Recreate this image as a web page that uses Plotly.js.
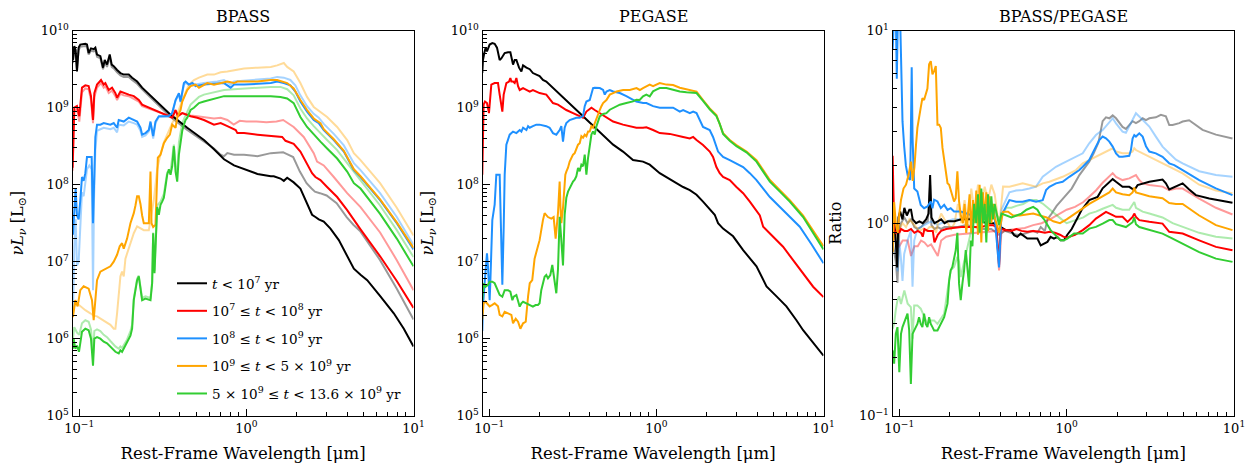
<!DOCTYPE html>
<html>
<head>
<meta charset="utf-8">
<script src="https://cdn.plot.ly/plotly-3.0.1.min.js"></script>
<style>
  html, body { margin: 0; padding: 0; background: #fff; }
  #chart { width: 1256px; height: 475px; }
</style>
</head>
<body>
<div id="chart"></div>
<script>
// Spectral energy distributions split by stellar age, BPASS vs PEGASE.
// Every series is a list of [log10(wavelength / micron), log10(value)] pairs.

const AGE_LABELS = [
  "<i>t</i> < 10<sup>7</sup> yr",
  "10<sup>7</sup> ≤ <i>t</i> < 10<sup>8</sup> yr",
  "10<sup>8</sup> ≤ <i>t</i> < 10<sup>9</sup> yr",
  "10<sup>9</sup> ≤ <i>t</i> < 5 × 10<sup>9</sup> yr",
  "5 × 10<sup>9</sup> ≤ <i>t</i> < 13.6 × 10<sup>9</sup> yr"
];

// ---------- BPASS, log10 nuLnu [Lsun] ----------
const bpass_lt7 = [[-1.038,9.62],[-1.03,9.80],[-1.022,9.75],[-1.014,9.47],[-1.004,9.78],[-0.994,9.82],[-0.964,9.83],[-0.954,9.82],[-0.944,9.71],[-0.93,9.77],[-0.914,9.76],[-0.904,9.78],[-0.894,9.69],[-0.874,9.67],[-0.858,9.52],[-0.848,9.62],[-0.834,9.56],[-0.818,9.69],[-0.806,9.56],[-0.794,9.54],[-0.774,9.49],[-0.754,9.45],[-0.734,9.43],[-0.704,9.43],[-0.684,9.39],[-0.654,9.34],[-0.624,9.26],[-0.454,8.91],[-0.354,8.74],[-0.254,8.58],[-0.194,8.46],[-0.134,8.33],[-0.074,8.25],[-0.014,8.20],[0.066,8.14],[0.146,8.11],[0.164,8.11],[0.204,8.08],[0.224,8.05],[0.244,8.09],[0.283,8.03],[0.323,7.95],[0.353,7.80],[0.373,7.69],[0.393,7.61],[0.413,7.58],[0.433,7.55],[0.463,7.52],[0.503,7.43],[0.553,7.28],[0.603,7.07],[0.643,6.91],[0.683,6.83],[0.723,6.76],[0.802,6.55],[0.882,6.33],[0.942,6.13],[1.0,5.90]];
const bpass_7to8 = [[-1.04,8.22],[-1.03,9.00],[-1.014,9.02],[-1.0,8.89],[-0.984,9.26],[-0.964,9.29],[-0.944,9.28],[-0.93,9.15],[-0.918,8.84],[-0.91,9.19],[-0.894,9.30],[-0.878,9.34],[-0.87,9.36],[-0.854,9.30],[-0.844,9.32],[-0.824,9.23],[-0.804,9.26],[-0.784,9.19],[-0.774,9.13],[-0.754,9.21],[-0.734,9.19],[-0.704,9.17],[-0.674,9.15],[-0.644,9.10],[-0.624,9.04],[-0.584,9.00],[-0.534,8.95],[-0.474,8.90],[-0.444,8.87],[-0.424,8.97],[-0.41,8.89],[-0.384,8.93],[-0.334,8.89],[-0.294,8.87],[-0.254,8.84],[-0.194,8.78],[-0.154,8.80],[-0.114,8.76],[-0.064,8.71],[-0.054,8.67],[-0.014,8.67],[0.066,8.65],[0.146,8.63],[0.214,8.62],[0.234,8.57],[0.283,8.53],[0.323,8.43],[0.363,8.28],[0.393,8.15],[0.413,8.10],[0.443,8.06],[0.483,7.97],[0.543,7.84],[0.603,7.67],[0.643,7.54],[0.683,7.42],[0.8,7.07],[0.9,6.75],[1.0,6.40]];
const bpass_8to9 = [[-1.038,7.35],[-1.03,7.75],[-1.022,7.95],[-1.014,7.60],[-1.004,7.55],[-0.994,7.80],[-0.984,8.10],[-0.974,8.05],[-0.964,8.15],[-0.954,8.36],[-0.94,8.36],[-0.926,8.36],[-0.918,7.50],[-0.912,8.20],[-0.904,8.62],[-0.894,8.78],[-0.874,8.78],[-0.854,8.80],[-0.814,8.78],[-0.794,8.80],[-0.774,8.74],[-0.764,8.84],[-0.734,8.82],[-0.704,8.87],[-0.674,8.84],[-0.654,8.82],[-0.634,8.74],[-0.624,8.65],[-0.604,8.67],[-0.584,8.71],[-0.574,8.82],[-0.558,8.63],[-0.544,8.82],[-0.524,8.89],[-0.464,8.89],[-0.444,8.93],[-0.424,9.10],[-0.404,9.19],[-0.394,9.08],[-0.374,9.32],[-0.364,9.34],[-0.344,9.30],[-0.324,9.32],[-0.304,9.28],[-0.254,9.30],[-0.174,9.31],[-0.134,9.32],[-0.094,9.26],[-0.074,9.30],[-0.014,9.30],[0.146,9.32],[0.184,9.34],[0.224,9.32],[0.263,9.29],[0.293,9.21],[0.323,9.08],[0.363,8.95],[0.403,8.84],[0.433,8.80],[0.463,8.71],[0.523,8.58],[0.583,8.43],[0.643,8.19],[0.683,8.10],[0.8,7.80],[0.9,7.50],[1.0,7.16]];
const bpass_9to5e9 = [[-1.038,6.28],[-1.034,6.37],[-1.024,6.50],[-1.01,6.42],[-0.994,6.63],[-0.974,6.68],[-0.944,6.65],[-0.924,6.50],[-0.914,6.24],[-0.904,6.50],[-0.894,6.76],[-0.874,6.87],[-0.854,6.89],[-0.834,6.91],[-0.814,6.94],[-0.794,7.00],[-0.774,7.09],[-0.758,7.20],[-0.744,7.24],[-0.734,7.17],[-0.714,7.30],[-0.694,7.50],[-0.674,7.63],[-0.664,7.73],[-0.654,7.85],[-0.644,7.85],[-0.634,7.75],[-0.624,7.60],[-0.614,7.50],[-0.584,7.50],[-0.574,8.17],[-0.568,7.50],[-0.558,7.45],[-0.544,7.48],[-0.538,7.85],[-0.53,8.35],[-0.514,8.39],[-0.494,8.54],[-0.474,8.61],[-0.458,8.65],[-0.444,8.78],[-0.424,8.74],[-0.414,8.87],[-0.394,8.97],[-0.384,9.08],[-0.374,9.13],[-0.354,9.23],[-0.334,9.28],[-0.304,9.30],[-0.284,9.26],[-0.264,9.28],[-0.234,9.32],[-0.194,9.30],[-0.154,9.32],[-0.114,9.34],[-0.074,9.32],[-0.054,9.34],[0.006,9.34],[0.066,9.34],[0.146,9.36],[0.184,9.36],[0.244,9.32],[0.283,9.25],[0.323,9.10],[0.363,8.97],[0.403,8.86],[0.443,8.80],[0.463,8.72],[0.523,8.59],[0.583,8.44],[0.643,8.20],[0.683,8.11],[0.8,7.81],[0.9,7.51],[1.0,7.18]];
const bpass_5e9to13e9 = [[-1.038,5.87],[-1.034,6.00],[-1.024,5.87],[-1.014,5.91],[-1.002,5.83],[-0.984,6.09],[-0.964,6.13],[-0.944,6.11],[-0.93,6.00],[-0.918,5.65],[-0.91,6.00],[-0.894,6.02],[-0.874,6.00],[-0.854,5.96],[-0.834,5.94],[-0.814,5.89],[-0.784,5.83],[-0.764,5.81],[-0.754,5.85],[-0.744,5.83],[-0.734,5.87],[-0.714,5.94],[-0.694,6.04],[-0.684,6.13],[-0.674,6.50],[-0.664,6.63],[-0.654,6.76],[-0.644,6.81],[-0.634,6.63],[-0.624,6.50],[-0.604,6.52],[-0.574,6.50],[-0.564,6.72],[-0.558,7.37],[-0.55,6.85],[-0.544,7.28],[-0.534,7.71],[-0.524,7.61],[-0.514,7.74],[-0.504,7.78],[-0.494,7.83],[-0.484,7.98],[-0.474,8.13],[-0.464,8.20],[-0.454,8.13],[-0.444,8.24],[-0.434,8.50],[-0.424,8.17],[-0.414,8.04],[-0.404,8.39],[-0.394,8.56],[-0.384,8.70],[-0.374,8.78],[-0.364,8.84],[-0.354,8.87],[-0.334,8.97],[-0.314,9.00],[-0.284,9.06],[-0.254,9.08],[-0.214,9.10],[-0.174,9.13],[-0.134,9.15],[-0.074,9.15],[-0.014,9.15],[0.066,9.15],[0.146,9.15],[0.204,9.14],[0.244,9.12],[0.283,9.06],[0.323,8.88],[0.363,8.75],[0.403,8.65],[0.443,8.56],[0.483,8.47],[0.543,8.34],[0.603,8.17],[0.643,8.02],[0.683,7.95],[0.8,7.62],[0.9,7.30],[1.0,6.94]];

// BPASS alternative model (drawn faded)
const bpassAlt_lt7 = [[-1.038,9.58],[-1.03,9.77],[-1.022,9.70],[-1.014,9.50],[-1.004,9.75],[-0.994,9.79],[-0.964,9.80],[-0.954,9.79],[-0.944,9.69],[-0.93,9.74],[-0.914,9.73],[-0.904,9.75],[-0.894,9.66],[-0.874,9.64],[-0.858,9.50],[-0.848,9.59],[-0.834,9.53],[-0.818,9.66],[-0.806,9.53],[-0.794,9.51],[-0.774,9.46],[-0.754,9.42],[-0.734,9.40],[-0.704,9.40],[-0.684,9.36],[-0.654,9.31],[-0.624,9.24],[-0.454,8.88],[-0.354,8.71],[-0.254,8.56],[-0.194,8.47],[-0.154,8.39],[-0.134,8.37],[-0.114,8.41],[-0.074,8.39],[-0.014,8.39],[0.066,8.37],[0.146,8.41],[0.22,8.42],[0.24,8.40],[0.28,8.36],[0.32,8.17],[0.36,8.02],[0.39,7.95],[0.41,7.91],[0.44,7.89],[0.48,7.86],[0.54,7.76],[0.6,7.58],[0.64,7.48],[0.68,7.40],[0.8,7.02],[0.9,6.65],[1.0,6.25]];
const bpassAlt_7to8 = [[-1.04,8.18],[-1.03,8.95],[-1.014,8.98],[-1.0,8.82],[-0.984,9.20],[-0.964,9.25],[-0.944,9.24],[-0.93,9.10],[-0.918,8.80],[-0.91,9.14],[-0.894,9.26],[-0.878,9.30],[-0.87,9.32],[-0.854,9.26],[-0.844,9.28],[-0.824,9.19],[-0.804,9.22],[-0.784,9.15],[-0.774,9.10],[-0.754,9.18],[-0.734,9.16],[-0.704,9.15],[-0.674,9.12],[-0.644,9.08],[-0.624,9.02],[-0.584,8.99],[-0.534,8.95],[-0.474,8.91],[-0.444,8.88],[-0.424,8.96],[-0.41,8.90],[-0.384,8.93],[-0.334,8.90],[-0.294,8.89],[-0.254,8.88],[-0.194,8.86],[-0.154,8.87],[-0.114,8.84],[-0.076,8.78],[-0.04,8.83],[0.0,8.82],[0.06,8.82],[0.12,8.81],[0.18,8.82],[0.22,8.84],[0.283,8.75],[0.343,8.62],[0.403,8.41],[0.423,8.30],[0.463,8.25],[0.523,8.10],[0.603,7.89],[0.683,7.71],[0.8,7.38],[0.9,7.02],[1.0,6.63]];
const bpassAlt_8to9 = [[-1.038,6.30],[-1.03,7.20],[-1.022,7.55],[-1.014,6.95],[-1.004,7.00],[-0.994,7.55],[-0.984,7.90],[-0.974,7.85],[-0.964,8.05],[-0.954,8.20],[-0.94,8.25],[-0.926,8.20],[-0.918,6.63],[-0.912,7.80],[-0.904,8.45],[-0.894,8.70],[-0.874,8.72],[-0.854,8.74],[-0.814,8.72],[-0.794,8.74],[-0.774,8.68],[-0.764,8.78],[-0.734,8.77],[-0.704,8.82],[-0.674,8.80],[-0.654,8.78],[-0.634,8.70],[-0.624,8.62],[-0.604,8.64],[-0.584,8.69],[-0.574,8.80],[-0.558,8.60],[-0.544,8.80],[-0.524,8.88],[-0.464,8.89],[-0.444,8.93],[-0.424,9.09],[-0.404,9.17],[-0.394,9.07],[-0.374,9.30],[-0.364,9.32],[-0.344,9.30],[-0.324,9.32],[-0.304,9.30],[-0.254,9.32],[-0.174,9.34],[-0.134,9.36],[-0.094,9.30],[-0.074,9.34],[-0.014,9.35],[0.146,9.38],[0.184,9.40],[0.224,9.39],[0.263,9.36],[0.293,9.29],[0.323,9.16],[0.363,9.02],[0.403,8.92],[0.433,8.87],[0.463,8.79],[0.523,8.66],[0.583,8.51],[0.643,8.28],[0.683,8.19],[0.8,7.89],[0.9,7.58],[1.0,7.22]];
const bpassAlt_9to5e9 = [[-1.038,6.35],[-1.03,6.42],[-1.014,6.46],[-0.994,6.42],[-0.964,6.37],[-0.934,6.33],[-0.914,6.30],[-0.894,6.29],[-0.854,6.24],[-0.814,6.18],[-0.794,6.13],[-0.784,6.13],[-0.774,6.33],[-0.764,6.55],[-0.754,6.81],[-0.744,6.87],[-0.734,6.81],[-0.724,7.04],[-0.694,7.24],[-0.674,7.37],[-0.654,7.46],[-0.634,7.44],[-0.614,7.41],[-0.584,7.41],[-0.574,7.54],[-0.554,7.80],[-0.534,8.20],[-0.514,8.40],[-0.494,8.55],[-0.474,8.66],[-0.444,8.80],[-0.414,8.92],[-0.384,9.10],[-0.364,9.20],[-0.344,9.30],[-0.314,9.36],[-0.284,9.39],[-0.234,9.43],[-0.194,9.43],[-0.154,9.46],[-0.114,9.47],[-0.074,9.49],[-0.014,9.51],[0.066,9.52],[0.146,9.53],[0.184,9.55],[0.224,9.58],[0.244,9.53],[0.283,9.47],[0.323,9.32],[0.363,9.14],[0.403,9.01],[0.443,8.95],[0.483,8.88],[0.543,8.75],[0.603,8.58],[0.643,8.41],[0.683,8.32],[0.8,8.02],[0.9,7.70],[1.0,7.34]];
const bpassAlt_5e9to13e9 = [[-1.038,6.00],[-1.03,6.15],[-1.014,6.08],[-1.0,6.05],[-0.984,6.20],[-0.964,6.24],[-0.944,6.22],[-0.93,6.12],[-0.918,5.80],[-0.91,6.10],[-0.894,6.12],[-0.874,6.10],[-0.854,6.05],[-0.834,6.02],[-0.814,5.97],[-0.784,5.90],[-0.764,5.87],[-0.754,5.90],[-0.744,5.88],[-0.734,5.92],[-0.714,5.99],[-0.694,6.10],[-0.684,6.18],[-0.674,6.52],[-0.664,6.65],[-0.654,6.78],[-0.644,6.82],[-0.634,6.66],[-0.624,6.53],[-0.604,6.55],[-0.574,6.53],[-0.564,6.74],[-0.558,7.38],[-0.55,6.88],[-0.544,7.30],[-0.534,7.73],[-0.514,7.78],[-0.494,7.88],[-0.474,8.16],[-0.454,8.18],[-0.434,8.52],[-0.424,8.25],[-0.414,8.15],[-0.404,8.55],[-0.394,8.68],[-0.384,8.80],[-0.374,8.85],[-0.364,8.90],[-0.354,8.94],[-0.334,9.04],[-0.314,9.08],[-0.284,9.14],[-0.254,9.17],[-0.214,9.19],[-0.174,9.21],[-0.134,9.23],[-0.074,9.24],[-0.014,9.25],[0.066,9.26],[0.146,9.27],[0.204,9.27],[0.244,9.24],[0.283,9.16],[0.323,8.99],[0.363,8.86],[0.403,8.76],[0.483,8.58],[0.543,8.45],[0.603,8.28],[0.683,8.06],[0.8,7.73],[0.9,7.41],[1.0,7.06]];

// ---------- PEGASE, log10 nuLnu [Lsun] ----------
const pegase_lt7 = [[-1.042,9.45],[-1.038,9.62],[-1.03,9.71],[-1.022,9.78],[-1.014,9.73],[-0.998,9.82],[-0.982,9.84],[-0.968,9.83],[-0.954,9.78],[-0.938,9.62],[-0.928,9.64],[-0.908,9.71],[-0.888,9.72],[-0.874,9.72],[-0.858,9.56],[-0.848,9.62],[-0.838,9.62],[-0.822,9.52],[-0.808,9.47],[-0.798,9.55],[-0.778,9.52],[-0.758,9.50],[-0.739,9.45],[-0.719,9.43],[-0.699,9.41],[-0.679,9.36],[-0.659,9.34],[-0.439,8.89],[-0.259,8.52],[-0.2,8.43],[-0.14,8.32],[-0.08,8.30],[-0.04,8.26],[0.02,8.15],[0.08,8.07],[0.12,8.02],[0.16,7.97],[0.2,7.93],[0.24,7.87],[0.279,7.78],[0.319,7.69],[0.349,7.61],[0.369,7.50],[0.399,7.43],[0.459,7.33],[0.519,7.15],[0.599,6.94],[0.629,6.81],[0.659,6.68],[0.719,6.55],[0.778,6.42],[0.838,6.24],[0.878,6.11],[1.0,5.78]];
const pegase_7to8 = [[-1.042,8.13],[-1.038,8.74],[-1.034,9.04],[-1.026,9.08],[-1.014,9.06],[-1.002,8.93],[-0.988,9.30],[-0.968,9.32],[-0.948,9.32],[-0.938,9.17],[-0.922,8.95],[-0.914,9.17],[-0.898,9.32],[-0.882,9.34],[-0.874,9.385],[-0.868,9.34],[-0.858,9.34],[-0.848,9.32],[-0.838,9.385],[-0.828,9.28],[-0.818,9.23],[-0.798,9.255],[-0.778,9.23],[-0.758,9.21],[-0.739,9.23],[-0.719,9.21],[-0.699,9.19],[-0.659,9.17],[-0.619,9.06],[-0.589,9.04],[-0.559,9.00],[-0.539,8.97],[-0.499,8.93],[-0.459,8.89],[-0.439,8.87],[-0.419,8.95],[-0.389,9.00],[-0.369,8.97],[-0.339,8.93],[-0.299,8.87],[-0.259,8.82],[-0.2,8.78],[-0.16,8.76],[-0.12,8.74],[-0.08,8.74],[-0.06,8.745],[-0.02,8.71],[0.02,8.67],[0.08,8.66],[0.12,8.645],[0.16,8.62],[0.2,8.60],[0.22,8.62],[0.24,8.58],[0.279,8.515],[0.319,8.43],[0.339,8.36],[0.359,8.23],[0.379,8.15],[0.399,8.10],[0.439,8.06],[0.479,7.97],[0.519,7.89],[0.559,7.78],[0.599,7.65],[0.619,7.60],[0.639,7.455],[0.659,7.41],[0.699,7.325],[0.758,7.195],[0.818,7.02],[0.878,6.85],[0.938,6.675],[1.0,6.54]];
const pegase_8to9 = [[-1.042,6.10],[-1.038,6.42],[-1.028,6.72],[-1.018,6.98],[-1.014,7.11],[-1.008,6.94],[-0.998,6.50],[-0.994,6.72],[-0.982,7.54],[-0.968,7.74],[-0.958,8.13],[-0.938,8.13],[-0.932,7.44],[-0.922,6.70],[-0.914,7.44],[-0.908,8.13],[-0.898,8.52],[-0.878,8.65],[-0.858,8.69],[-0.838,8.67],[-0.818,8.71],[-0.808,8.69],[-0.798,8.74],[-0.778,8.71],[-0.768,8.76],[-0.758,8.74],[-0.739,8.76],[-0.719,8.78],[-0.699,8.78],[-0.659,8.76],[-0.639,8.74],[-0.619,8.67],[-0.599,8.65],[-0.579,8.71],[-0.569,8.76],[-0.559,8.56],[-0.549,8.74],[-0.539,8.80],[-0.519,8.84],[-0.479,8.87],[-0.459,8.87],[-0.439,8.89],[-0.429,9.02],[-0.419,9.08],[-0.399,9.10],[-0.389,9.17],[-0.379,9.255],[-0.369,9.26],[-0.339,9.255],[-0.319,9.23],[-0.309,9.17],[-0.299,9.21],[-0.279,9.23],[-0.259,9.21],[-0.219,9.19],[-0.18,9.15],[-0.14,9.10],[-0.12,9.08],[-0.08,9.06],[-0.06,9.06],[-0.02,9.02],[0.02,9.00],[0.06,9.00],[0.1,9.00],[0.14,8.95],[0.16,8.97],[0.2,8.93],[0.22,8.95],[0.24,8.93],[0.259,8.84],[0.279,8.75],[0.319,8.71],[0.339,8.62],[0.369,8.43],[0.399,8.36],[0.439,8.32],[0.479,8.28],[0.519,8.23],[0.559,8.15],[0.599,8.06],[0.639,7.95],[0.679,7.84],[0.739,7.71],[0.798,7.58],[0.858,7.455],[0.93,7.22],[1.0,6.98]];
const pegase_9to5e9 = [[-1.042,6.25],[-1.034,6.46],[-1.022,6.48],[-1.008,6.44],[-0.998,6.42],[-0.982,6.44],[-0.968,6.46],[-0.948,6.42],[-0.938,6.31],[-0.922,6.29],[-0.908,6.35],[-0.888,6.33],[-0.868,6.31],[-0.858,6.20],[-0.842,6.26],[-0.828,6.22],[-0.814,6.13],[-0.798,6.20],[-0.782,6.22],[-0.768,6.55],[-0.758,6.72],[-0.743,6.76],[-0.729,7.04],[-0.709,7.20],[-0.699,7.28],[-0.679,7.54],[-0.669,7.63],[-0.649,7.58],[-0.629,7.56],[-0.615,7.58],[-0.603,7.30],[-0.589,7.63],[-0.579,8.04],[-0.574,7.70],[-0.569,7.50],[-0.559,7.70],[-0.545,8.13],[-0.539,8.17],[-0.529,8.22],[-0.519,8.30],[-0.499,8.39],[-0.489,8.41],[-0.479,8.48],[-0.469,8.52],[-0.459,8.54],[-0.449,8.63],[-0.439,8.61],[-0.429,8.65],[-0.419,8.63],[-0.409,8.69],[-0.399,8.69],[-0.389,8.76],[-0.379,8.74],[-0.369,8.80],[-0.359,8.87],[-0.349,8.93],[-0.339,8.97],[-0.329,9.02],[-0.319,9.06],[-0.299,9.10],[-0.279,9.17],[-0.259,9.19],[-0.239,9.21],[-0.199,9.23],[-0.159,9.23],[-0.119,9.255],[-0.099,9.23],[-0.08,9.255],[-0.06,9.28],[-0.04,9.30],[-0.02,9.28],[0.0,9.30],[0.02,9.32],[0.06,9.30],[0.1,9.294],[0.14,9.26],[0.18,9.24],[0.24,9.21],[0.279,9.10],[0.319,8.99],[0.359,8.905],[0.379,8.80],[0.399,8.67],[0.439,8.58],[0.479,8.515],[0.539,8.43],[0.599,8.32],[0.639,8.19],[0.679,8.06],[0.739,7.93],[0.798,7.80],[0.878,7.60],[1.0,7.20]];
const pegase_5e9to13e9 = [[-1.042,6.50],[-1.034,6.72],[-1.022,6.675],[-1.008,6.70],[-0.998,6.74],[-0.982,6.74],[-0.968,6.72],[-0.954,6.65],[-0.938,6.57],[-0.922,6.545],[-0.908,6.63],[-0.888,6.63],[-0.874,6.61],[-0.862,6.50],[-0.854,6.545],[-0.838,6.567],[-0.828,6.50],[-0.818,6.416],[-0.808,6.46],[-0.798,6.48],[-0.778,6.46],[-0.758,6.437],[-0.739,6.416],[-0.723,6.437],[-0.709,6.437],[-0.699,6.46],[-0.689,6.63],[-0.669,6.805],[-0.659,6.827],[-0.649,6.784],[-0.635,6.827],[-0.623,6.957],[-0.609,6.72],[-0.599,6.59],[-0.589,6.90],[-0.579,7.584],[-0.569,7.281],[-0.559,6.95],[-0.549,7.61],[-0.539,7.83],[-0.529,7.91],[-0.519,7.96],[-0.509,8.0],[-0.499,8.04],[-0.489,8.065],[-0.479,8.11],[-0.469,8.216],[-0.459,8.173],[-0.449,8.26],[-0.439,8.24],[-0.429,8.39],[-0.419,8.13],[-0.409,8.35],[-0.399,8.54],[-0.389,8.65],[-0.379,8.693],[-0.369,8.65],[-0.359,8.758],[-0.349,8.822],[-0.339,8.887],[-0.319,8.918],[-0.299,8.93],[-0.279,8.974],[-0.259,8.996],[-0.219,9.039],[-0.18,9.06],[-0.14,9.082],[-0.12,9.104],[-0.1,9.10],[-0.08,9.147],[-0.06,9.169],[-0.04,9.147],[-0.02,9.212],[0.0,9.234],[0.02,9.255],[0.06,9.255],[0.1,9.234],[0.14,9.21],[0.18,9.20],[0.22,9.19],[0.24,9.19],[0.279,9.09],[0.319,8.98],[0.359,8.89],[0.379,8.79],[0.399,8.66],[0.439,8.57],[0.479,8.50],[0.539,8.42],[0.599,8.30],[0.639,8.17],[0.679,8.04],[0.739,7.91],[0.798,7.78],[0.878,7.58],[1.0,7.16]];

// ---------- BPASS / PEGASE, log10 ratio ----------
const ratio_lt7 = [[-1.04,-0.05],[-1.031,0.02],[-1.021,-0.10],[-1.013,-0.23],[-1.005,0.03],[-0.995,0.06],[-0.981,0.02],[-0.97,0.08],[-0.955,0.04],[-0.94,0.07],[-0.93,0.07],[-0.92,0.02],[-0.9,0.0],[-0.88,0.01],[-0.86,0.0],[-0.84,0.02],[-0.825,0.05],[-0.816,0.25],[-0.808,0.03],[-0.79,0.0],[-0.77,0.01],[-0.75,0.02],[-0.73,0.0],[-0.71,0.01],[-0.67,0.01],[-0.63,0.02],[-0.57,0.02],[-0.51,0.01],[-0.47,0.0],[-0.434,0.0],[-0.404,-0.04],[-0.394,-0.02],[-0.364,-0.036],[-0.334,-0.036],[-0.314,-0.062],[-0.295,-0.071],[-0.275,-0.054],[-0.235,-0.08],[-0.215,-0.08],[-0.175,-0.08],[-0.155,-0.115],[-0.135,-0.106],[-0.115,-0.097],[-0.096,-0.071],[-0.076,-0.08],[-0.056,-0.071],[-0.036,-0.089],[-0.016,-0.089],[0.004,-0.06],[0.03,-0.03],[0.06,0.02],[0.09,0.07],[0.135,0.12],[0.185,0.137],[0.215,0.181],[0.275,0.229],[0.295,0.215],[0.334,0.189],[0.374,0.189],[0.404,0.172],[0.424,0.198],[0.454,0.207],[0.494,0.215],[0.573,0.227],[0.593,0.207],[0.613,0.175],[0.673,0.198],[0.693,0.207],[0.732,0.175],[0.772,0.146],[0.852,0.128],[0.991,0.106]];
const ratio_7to8 = [[-1.04,0.35],[-1.035,0.0],[-1.03,-0.04],[-1.02,-0.05],[-1.01,-0.03],[-1.0,-0.05],[-0.99,-0.03],[-0.97,-0.04],[-0.95,-0.04],[-0.93,-0.03],[-0.91,-0.05],[-0.89,-0.04],[-0.87,-0.05],[-0.86,-0.07],[-0.85,-0.03],[-0.83,-0.04],[-0.8,-0.04],[-0.79,-0.1],[-0.77,-0.06],[-0.75,-0.04],[-0.72,-0.03],[-0.68,-0.025],[-0.63,-0.02],[-0.57,-0.02],[-0.51,-0.02],[-0.47,-0.01],[-0.44,-0.01],[-0.42,-0.02],[-0.404,-0.22],[-0.395,-0.03],[-0.36,-0.035],[-0.33,-0.04],[-0.3,-0.03],[-0.27,-0.04],[-0.235,-0.045],[-0.2,-0.04],[-0.16,-0.045],[-0.13,-0.05],[-0.1,-0.045],[-0.07,-0.05],[-0.04,-0.06],[-0.02,-0.07],[0.0,-0.075],[0.05,-0.06],[0.096,-0.036],[0.135,-0.01],[0.175,0.024],[0.215,0.05],[0.235,0.059],[0.275,0.042],[0.295,0.033],[0.334,0.033],[0.364,0.007],[0.394,0.033],[0.404,0.05],[0.414,0.033],[0.434,0.016],[0.494,0.007],[0.573,-0.002],[0.613,-0.045],[0.693,-0.054],[0.792,-0.089],[0.892,-0.123],[0.991,-0.141]];
const ratio_8to9 = [[-1.04,0.9],[-1.03,1.1],[-1.021,1.1],[-1.015,0.75],[-1.008,1.1],[-0.996,1.1],[-0.988,0.8],[-0.981,0.53],[-0.971,0.40],[-0.961,0.30],[-0.947,0.235],[-0.935,0.225],[-0.929,0.6],[-0.926,0.81],[-0.921,0.45],[-0.911,0.18],[-0.892,0.165],[-0.872,0.095],[-0.852,0.078],[-0.832,0.087],[-0.812,0.113],[-0.802,0.078],[-0.792,0.122],[-0.772,0.113],[-0.752,0.078],[-0.732,0.095],[-0.712,0.069],[-0.693,0.078],[-0.673,0.061],[-0.633,0.061],[-0.573,0.043],[-0.52,0.05],[-0.47,0.04],[-0.43,0.03],[-0.404,-0.23],[-0.39,0.04],[-0.342,0.12],[-0.302,0.111],[-0.263,0.111],[-0.223,0.12],[-0.183,0.111],[-0.143,0.12],[-0.123,0.172],[-0.103,0.189],[-0.064,0.207],[-0.024,0.215],[0.016,0.241],[0.076,0.276],[0.096,0.293],[0.135,0.328],[0.155,0.363],[0.175,0.398],[0.195,0.432],[0.215,0.45],[0.235,0.441],[0.255,0.424],[0.275,0.398],[0.295,0.363],[0.314,0.345],[0.334,0.345],[0.374,0.35],[0.384,0.38],[0.394,0.44],[0.404,0.458],[0.414,0.45],[0.434,0.467],[0.454,0.45],[0.474,0.40],[0.494,0.372],[0.533,0.363],[0.573,0.345],[0.613,0.311],[0.643,0.302],[0.693,0.276],[0.792,0.224],[0.892,0.181],[0.991,0.146]];
const ratio_9to5e9 = [[-1.04,-0.15],[-1.035,0.03],[-1.031,0.11],[-1.021,0.0],[-1.01,-0.05],[-1.0,0.05],[-0.99,0.12],[-0.975,0.18],[-0.96,0.2],[-0.945,0.25],[-0.93,0.32],[-0.92,0.22],[-0.91,0.29],[-0.9,0.41],[-0.892,0.495],[-0.872,0.60],[-0.862,0.65],[-0.852,0.64],[-0.842,0.67],[-0.832,0.70],[-0.822,0.825],[-0.812,0.842],[-0.802,0.773],[-0.792,0.79],[-0.782,0.816],[-0.772,0.512],[-0.762,0.512],[-0.752,0.495],[-0.742,0.391],[-0.722,0.269],[-0.712,0.208],[-0.702,0.20],[-0.683,0.148],[-0.673,0.113],[-0.663,0.13],[-0.653,0.269],[-0.643,0.113],[-0.633,0.043],[-0.62,0.0],[-0.61,0.1],[-0.6,-0.05],[-0.59,0.05],[-0.58,0.15],[-0.57,-0.05],[-0.56,0.12],[-0.55,0.0],[-0.54,0.17],[-0.53,-0.06],[-0.52,0.2],[-0.51,-0.1],[-0.5,0.16],[-0.49,0.02],[-0.48,0.16],[-0.47,-0.04],[-0.46,0.14],[-0.45,0.0],[-0.44,0.1],[-0.43,0.03],[-0.404,-0.05],[-0.38,0.06],[-0.35,0.06],[-0.32,0.04],[-0.28,0.04],[-0.24,0.045],[-0.2,0.05],[-0.16,0.04],[-0.12,0.03],[-0.08,0.01],[-0.04,0.0],[0.0,0.02],[0.05,0.05],[0.1,0.08],[0.135,0.10],[0.175,0.12],[0.215,0.14],[0.255,0.16],[0.275,0.18],[0.295,0.16],[0.334,0.15],[0.374,0.145],[0.394,0.16],[0.404,0.185],[0.414,0.16],[0.454,0.15],[0.494,0.14],[0.533,0.135],[0.573,0.13],[0.613,0.105],[0.653,0.10],[0.693,0.10],[0.792,0.04],[0.892,-0.01],[0.991,-0.036]];
const ratio_5e9to13e9 = [[-1.04,-0.66],[-1.031,-0.73],[-1.021,-0.575],[-1.011,-0.54],[-1.0,-0.774],[-0.99,-0.575],[-0.981,-0.54],[-0.961,-0.488],[-0.951,-0.47],[-0.941,-0.557],[-0.931,-0.835],[-0.921,-0.575],[-0.911,-0.557],[-0.892,-0.523],[-0.882,-0.488],[-0.872,-0.523],[-0.862,-0.54],[-0.852,-0.47],[-0.842,-0.523],[-0.832,-0.54],[-0.822,-0.488],[-0.812,-0.523],[-0.802,-0.54],[-0.792,-0.557],[-0.772,-0.557],[-0.752,-0.523],[-0.732,-0.488],[-0.712,-0.418],[-0.702,-0.297],[-0.693,-0.245],[-0.683,-0.227],[-0.663,-0.141],[-0.653,-0.05],[-0.643,-0.314],[-0.633,-0.40],[-0.623,-0.314],[-0.613,-0.245],[-0.603,-0.14],[-0.593,-0.22],[-0.583,-0.33],[-0.573,-0.09],[-0.563,-0.12],[-0.553,0.1],[-0.54,0.0],[-0.53,0.15],[-0.52,-0.05],[-0.51,0.18],[-0.5,0.0],[-0.49,0.1],[-0.48,-0.1],[-0.47,0.15],[-0.46,0.0],[-0.45,0.14],[-0.44,0.02],[-0.43,0.1],[-0.404,-0.01],[-0.39,0.05],[-0.36,0.04],[-0.33,0.03],[-0.3,0.04],[-0.27,0.05],[-0.24,0.07],[-0.2,0.085],[-0.175,0.07],[-0.155,0.04],[-0.135,0.02],[-0.115,-0.01],[-0.096,-0.036],[-0.076,-0.054],[-0.056,-0.07],[-0.036,-0.089],[-0.016,-0.089],[0.004,-0.08],[0.044,-0.054],[0.096,-0.054],[0.135,-0.028],[0.175,-0.019],[0.215,-0.002],[0.255,0.016],[0.275,0.016],[0.295,-0.005],[0.354,-0.02],[0.394,0.005],[0.404,0.03],[0.414,-0.005],[0.434,-0.02],[0.494,-0.036],[0.573,-0.054],[0.633,-0.08],[0.693,-0.106],[0.792,-0.15],[0.892,-0.184],[0.991,-0.201]];

const ratioAlt_lt7 = [[-1.04,-0.10],[-1.031,-0.14],[-1.021,-0.2],[-1.011,-0.31],[-1.0,-0.04],[-0.99,0.0],[-0.97,0.03],[-0.95,0.0],[-0.93,0.02],[-0.91,-0.02],[-0.89,-0.03],[-0.87,-0.02],[-0.85,0.0],[-0.83,0.01],[-0.816,0.20],[-0.808,-0.01],[-0.79,-0.03],[-0.77,-0.02],[-0.75,-0.03],[-0.73,-0.02],[-0.7,-0.02],[-0.65,-0.02],[-0.6,-0.01],[-0.55,-0.02],[-0.5,-0.03],[-0.45,-0.03],[-0.404,-0.06],[-0.37,-0.04],[-0.33,-0.05],[-0.3,-0.06],[-0.27,-0.06],[-0.24,-0.05],[-0.2,-0.04],[-0.175,-0.05],[-0.155,-0.02],[-0.13,-0.04],[-0.115,0.02],[-0.09,0.05],[-0.06,0.09],[-0.03,0.12],[0.0,0.15],[0.03,0.18],[0.076,0.25],[0.1,0.28],[0.135,0.32],[0.16,0.36],[0.19,0.42],[0.215,0.53],[0.235,0.55],[0.255,0.545],[0.275,0.56],[0.295,0.545],[0.314,0.52],[0.334,0.50],[0.354,0.49],[0.374,0.51],[0.394,0.53],[0.414,0.52],[0.434,0.53],[0.454,0.545],[0.474,0.535],[0.494,0.545],[0.533,0.55],[0.563,0.563],[0.593,0.555],[0.613,0.51],[0.633,0.51],[0.673,0.52],[0.693,0.528],[0.732,0.535],[0.772,0.51],[0.812,0.485],[0.892,0.46],[0.991,0.44]];
const ratioAlt_7to8 = [[-1.04,0.30],[-1.035,-0.06],[-1.02,-0.10],[-1.0,-0.12],[-0.98,-0.09],[-0.95,-0.09],[-0.93,-0.17],[-0.91,-0.12],[-0.89,-0.12],[-0.87,-0.09],[-0.85,-0.10],[-0.83,-0.12],[-0.81,-0.11],[-0.79,-0.14],[-0.77,-0.17],[-0.75,-0.09],[-0.72,-0.07],[-0.67,-0.06],[-0.6,-0.055],[-0.53,-0.05],[-0.47,-0.045],[-0.42,-0.04],[-0.404,-0.245],[-0.39,-0.045],[-0.35,-0.035],[-0.3,-0.03],[-0.25,-0.025],[-0.2,-0.01],[-0.15,0.0],[-0.1,0.02],[-0.06,0.04],[-0.02,0.06],[0.0,0.07],[0.05,0.085],[0.1,0.11],[0.135,0.137],[0.175,0.17],[0.215,0.21],[0.255,0.24],[0.275,0.26],[0.295,0.24],[0.334,0.224],[0.374,0.233],[0.394,0.24],[0.414,0.25],[0.434,0.224],[0.454,0.207],[0.494,0.198],[0.573,0.19],[0.613,0.172],[0.653,0.18],[0.693,0.18],[0.792,0.128],[0.892,0.08],[0.991,0.045]];
const ratioAlt_8to9 = [[-1.04,0.1],[-1.03,0.0],[-1.02,-0.05],[-1.011,-0.25],[-1.001,-0.09],[-0.991,-0.175],[-0.981,-0.30],[-0.971,-0.16],[-0.951,-0.09],[-0.931,-0.04],[-0.921,-0.33],[-0.911,-0.09],[-0.892,-0.03],[-0.872,-0.02],[-0.85,-0.01],[-0.83,0.0],[-0.81,0.01],[-0.79,0.0],[-0.77,-0.01],[-0.75,0.0],[-0.72,0.01],[-0.68,0.02],[-0.63,0.02],[-0.57,0.03],[-0.52,0.05],[-0.47,0.06],[-0.43,0.06],[-0.404,-0.2],[-0.39,0.07],[-0.342,0.16],[-0.302,0.17],[-0.263,0.172],[-0.223,0.18],[-0.183,0.19],[-0.143,0.241],[-0.103,0.267],[-0.064,0.293],[-0.024,0.311],[0.016,0.328],[0.056,0.345],[0.096,0.363],[0.135,0.415],[0.175,0.458],[0.215,0.484],[0.255,0.528],[0.275,0.545],[0.295,0.519],[0.334,0.476],[0.354,0.47],[0.394,0.536],[0.414,0.571],[0.434,0.554],[0.454,0.536],[0.494,0.502],[0.533,0.45],[0.573,0.398],[0.613,0.363],[0.653,0.33],[0.693,0.311],[0.792,0.27],[0.892,0.25],[0.991,0.241]];
const ratioAlt_9to5e9 = [[-1.04,-0.1],[-1.03,-0.05],[-1.02,-0.08],[-1.0,-0.03],[-0.98,0.0],[-0.96,-0.02],[-0.94,0.02],[-0.92,0.0],[-0.9,-0.02],[-0.88,-0.04],[-0.86,-0.03],[-0.84,-0.04],[-0.82,-0.02],[-0.8,-0.02],[-0.78,-0.05],[-0.77,0.0],[-0.75,0.05],[-0.73,0.02],[-0.71,0.0],[-0.69,-0.03],[-0.67,0.0],[-0.65,0.1],[-0.63,0.0],[-0.61,0.12],[-0.59,-0.02],[-0.57,0.18],[-0.55,0.05],[-0.53,0.2],[-0.51,0.1],[-0.49,0.19],[-0.47,0.12],[-0.45,0.2],[-0.43,0.15],[-0.404,-0.02],[-0.38,0.19],[-0.342,0.189],[-0.302,0.198],[-0.263,0.207],[-0.223,0.198],[-0.183,0.19],[-0.143,0.207],[-0.103,0.215],[-0.024,0.241],[0.056,0.276],[0.096,0.311],[0.135,0.328],[0.175,0.345],[0.215,0.363],[0.255,0.38],[0.275,0.389],[0.295,0.372],[0.334,0.363],[0.374,0.363],[0.394,0.372],[0.404,0.389],[0.414,0.38],[0.454,0.363],[0.494,0.345],[0.573,0.311],[0.613,0.293],[0.693,0.259],[0.792,0.2],[0.892,0.17],[0.991,0.155]];
const ratioAlt_5e9to13e9 = [[-1.04,-0.55],[-1.031,-0.52],[-1.021,-0.45],[-1.011,-0.40],[-1.001,-0.38],[-0.99,-0.42],[-0.97,-0.35],[-0.95,-0.418],[-0.931,-0.436],[-0.921,-0.6],[-0.911,-0.427],[-0.892,-0.427],[-0.872,-0.444],[-0.852,-0.488],[-0.832,-0.523],[-0.812,-0.505],[-0.792,-0.505],[-0.772,-0.523],[-0.752,-0.497],[-0.732,-0.47],[-0.712,-0.35],[-0.693,-0.245],[-0.673,-0.227],[-0.653,-0.175],[-0.643,-0.2],[-0.633,-0.28],[-0.613,-0.2],[-0.593,-0.12],[-0.573,-0.05],[-0.553,0.08],[-0.54,0.02],[-0.52,0.15],[-0.5,0.05],[-0.48,0.1],[-0.46,0.04],[-0.44,0.09],[-0.404,0.02],[-0.36,0.08],[-0.33,0.08],[-0.3,0.09],[-0.26,0.1],[-0.22,0.12],[-0.18,0.12],[-0.14,0.1],[-0.1,0.07],[-0.06,0.04],[-0.03,0.02],[0.0,0.0],[0.05,0.015],[0.1,0.03],[0.135,0.05],[0.175,0.06],[0.215,0.075],[0.255,0.09],[0.275,0.095],[0.295,0.08],[0.334,0.07],[0.374,0.07],[0.404,0.11],[0.414,0.08],[0.454,0.06],[0.494,0.05],[0.573,0.03],[0.633,0.0],[0.693,-0.02],[0.792,-0.05],[0.892,-0.07],[0.991,-0.08]];

// ---------- styling ----------
const SOLID = ["#000000", "#ff0000", "#1e90ff", "#ffa500", "#32cd32"];
const FADED = ["rgba(0,0,0,0.4)", "rgba(255,0,0,0.4)", "rgba(30,144,255,0.4)", "rgba(255,165,0,0.4)", "rgba(50,205,50,0.4)"];
const FONT = "'DejaVu Serif', 'Liberation Serif', serif";

const bpass = [bpass_lt7, bpass_7to8, bpass_8to9, bpass_9to5e9, bpass_5e9to13e9];
const bpassAlt = [bpassAlt_lt7, bpassAlt_7to8, bpassAlt_8to9, bpassAlt_9to5e9, bpassAlt_5e9to13e9];
const pegase = [pegase_lt7, pegase_7to8, pegase_8to9, pegase_9to5e9, pegase_5e9to13e9];
const ratio = [ratio_lt7, ratio_7to8, ratio_8to9, ratio_9to5e9, ratio_5e9to13e9];
const ratioAlt = [ratioAlt_lt7, ratioAlt_7to8, ratioAlt_8to9, ratioAlt_9to5e9, ratioAlt_5e9to13e9];

function line(series, color, xa, ya, extra) {
  return Object.assign({
    type: "scatter", mode: "lines",
    x: series.map(p => Math.pow(10, p[0])),
    y: series.map(p => Math.pow(10, p[1])),
    xaxis: xa, yaxis: ya,
    line: { color: color, width: 2 },
    showlegend: false, hoverinfo: "skip"
  }, extra || {});
}

const traces = [];
for (let i = 0; i < 5; i++) traces.push(line(bpassAlt[i], FADED[i], "x", "y"));
for (let i = 0; i < 5; i++) traces.push(line(bpass[i], SOLID[i], "x", "y",
  { name: AGE_LABELS[i], showlegend: true, legendgroup: "g" + i }));
for (let i = 0; i < 5; i++) traces.push(line(pegase[i], SOLID[i], "x2", "y2"));
for (let i = 0; i < 5; i++) traces.push(line(ratioAlt[i], FADED[i], "x3", "y3"));
for (let i = 0; i < 5; i++) traces.push(line(ratio[i], SOLID[i], "x3", "y3"));

// tick positions on the log axes
const decades = (lo, hi) => { const v = []; for (let e = lo; e <= hi; e++) v.push(Math.pow(10, e)); return v; };
const minors = (lo, hi) => { const v = []; for (let e = lo; e < hi; e++) for (let m = 2; m <= 9; m++) v.push(m * Math.pow(10, e)); return v; };
const supText = vals => vals.map(v => { const e = Math.round(Math.log10(v)); return "10<sup>" + (e < 0 ? "\u2212" + (-e) : e) + "</sup>"; });

const X_RANGE = [Math.log10(0.0913), 1];
const xMajor = decades(-1, 1);

function xAxis(domain, anchor) {
  return {
    domain: domain, anchor: anchor, type: "log", range: X_RANGE,
    tickmode: "array", tickvals: xMajor, ticktext: supText(xMajor),
    ticks: "inside", ticklen: 7, tickwidth: 1, tickcolor: "#000",
    minor: { tickmode: "array", tickvals: minors(-2, 1), ticks: "inside", ticklen: 4, tickwidth: 1, tickcolor: "#000" },
    showline: true, linecolor: "#000", linewidth: 1.2, mirror: true,
    showgrid: false, zeroline: false,
    tickfont: { family: FONT, size: 13, color: "#000" },
    title: { text: "Rest-Frame Wavelength [\u03bcm]", font: { family: FONT, size: 16.5, color: "#000" }, standoff: 13 },
    automargin: false
  };
}
function yAxis(domain, anchor, lo, hi, titleText) {
  const maj = decades(lo, hi);
  return {
    domain: domain, anchor: anchor, type: "log", range: [lo, hi],
    tickmode: "array", tickvals: maj, ticktext: supText(maj),
    ticks: "inside", ticklen: 7, tickwidth: 1, tickcolor: "#000",
    minor: { tickmode: "array", tickvals: minors(lo, hi), ticks: "inside", ticklen: 4, tickwidth: 1, tickcolor: "#000" },
    showline: true, linecolor: "#000", linewidth: 1.2, mirror: true,
    showgrid: false, zeroline: false,
    tickfont: { family: FONT, size: 13, color: "#000" },
    title: { text: titleText, font: { family: FONT, size: 16, color: "#000" }, standoff: 13 },
    automargin: false
  };
}

const W = 1256, H = 475;
const yDom = [1 - 415.7 / H, 1 - 30.7 / H];
const dom1 = [72.7 / W, 413.5 / W];
const dom2 = [482.7 / W, 823.5 / W];
const dom3 = [892.7 / W, 1234 / W];
const LUM_TITLE = "<i>\u03bdL</i><sub><i>\u03bd</i></sub> [L<sub>\u2299</sub>]";

const panelTitle = (text, dom) => ({
  text: text, xref: "paper", yref: "paper",
  x: (dom[0] + dom[1]) / 2, y: 1 - 17 / H, xanchor: "center", yanchor: "middle",
  showarrow: false, font: { family: FONT, size: 16, color: "#000" }
});

const layout = {
  width: W, height: H,
  margin: { l: 0, r: 0, t: 0, b: 0 },
  paper_bgcolor: "#fff", plot_bgcolor: "#fff",
  showlegend: true,
  xaxis: xAxis(dom1, "y"),
  yaxis: yAxis(yDom, "x", 5, 10, LUM_TITLE),
  xaxis2: xAxis(dom2, "y2"),
  yaxis2: yAxis(yDom, "x2", 5, 10, LUM_TITLE),
  xaxis3: xAxis(dom3, "y3"),
  yaxis3: yAxis(yDom, "x3", -1, 1, "Ratio"),
  legend: {
    x: 172 / W, y: 1 - 268 / H, xanchor: "left", yanchor: "top",
    bgcolor: "rgba(0,0,0,0)", borderwidth: 0,
    traceorder: "grouped", tracegroupgap: 7,
    font: { family: FONT, size: 13.5, color: "#000" }
  },
  annotations: [
    panelTitle("BPASS", dom1),
    panelTitle("PEGASE", dom2),
    panelTitle("BPASS/PEGASE", dom3)
  ]
};

Plotly.newPlot("chart", traces, layout, { staticPlot: true, displayModeBar: false });
</script>
</body>
</html>
